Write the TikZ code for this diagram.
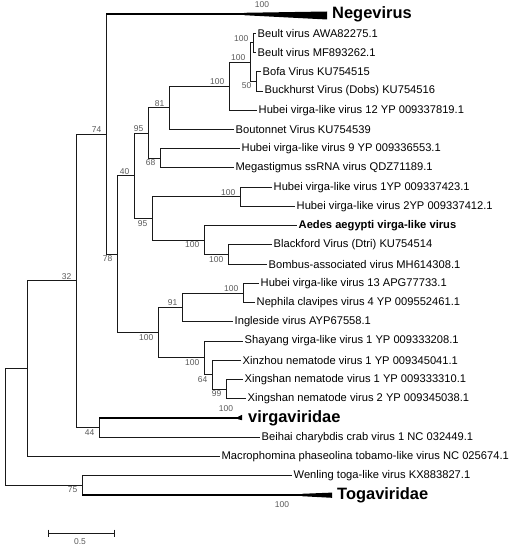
\documentclass[tikz,border=0pt]{standalone}
\usepackage{fontspec}
\setmainfont{Liberation Sans}
\usepackage{tikz}
\usetikzlibrary{positioning}
\tikzstyle{branch} = [line width=0.9bp, black!90]
\tikzstyle{clade} = [line width=2.4bp, black]
\tikzstyle{taxon} = [anchor=west, inner sep=1.5bp, font=\fontsize{11.2}{12}\selectfont]
\tikzstyle{group} = [anchor=west, inner sep=2bp, font=\fontsize{16.5}{18}\selectfont\bfseries]
\tikzstyle{bootUp} = [anchor=south east, inner sep=1.5bp, xshift=-3bp, text=black!65, font=\fontsize{8.5}{9}\selectfont]
\tikzstyle{bootDown} = [anchor=north east, inner sep=1.5bp, xshift=-3bp, text=black!65, font=\fontsize{8.5}{9}\selectfont]
\tikzstyle{bootMid} = [inner sep=0pt, text=black!65, font=\fontsize{8.5}{9}\selectfont]

\begin{document}
\begin{tikzpicture}[x=1bp, y=-1bp]
    \useasboundingbox (0,0) rectangle (519,550);

    % Internal nodes
    \coordinate (root) at (5,427.1);
    \coordinate (nMacro) at (27,368.7);
    \coordinate (n32) at (76,280.9);
    \coordinate (n44) at (99,427.7);
    \coordinate (n75) at (82,485.4);
    \coordinate (n74) at (106,134.1);
    \coordinate (n78) at (117,254.2);
    \coordinate (n40) at (134,175.8);
    \coordinate (n95a) at (148,133.1);
    \coordinate (n81) at (169,107.8);
    \coordinate (n100b) at (229,86.2);
    \coordinate (n100c) at (250,62.1);
    \coordinate (nBeult) at (253,42.9);
    \coordinate (n50) at (256,81.3);
    \coordinate (n68) at (160,158.3);
    \coordinate (n95b) at (152,218.4);
    \coordinate (n100d) at (240,196.8);
    \coordinate (n100e) at (204,240.1);
    \coordinate (n100f) at (228,254.5);
    \coordinate (n100a) at (158,332.7);
    \coordinate (n91) at (182,307.4);
    \coordinate (n100h) at (243,293.0);
    \coordinate (n100g) at (204,357.9);
    \coordinate (n64) at (212,374.8);
    \coordinate (n99) at (226,389.2);

    % Collapsed clades
    \coordinate (negRoot) at (106,14);
    \coordinate (negEnd) at (244,14);
    \coordinate (virRoot) at (99,418);
    \coordinate (virEnd) at (238,418);
    \coordinate (togRoot) at (82,495);
    \coordinate (togEnd) at (302,495);
    \node[group] (negev) at (330,14) {Negevirus};
    \node[group] (virga) at (246,418) {virgaviridae};
    \node[group] (toga) at (335,495) {Togaviridae};

    % Taxa
    \node[taxon] (beultA) at (256,33.2) {Beult virus AWA82275.1};
    \node[taxon] (beultB) at (256,52.5) {Beult virus MF893262.1};
    \node[taxon] (bofa) at (261,71.7) {Bofa Virus KU754515};
    \node[taxon] (buck) at (263,91.0) {Buckhurst Virus (Dobs) KU754516};
    \node[taxon] (hub12) at (257,110.2) {Hubei virga-like virus 12 YP 009337819.1};
    \node[taxon] (bouton) at (234,129.4) {Boutonnet Virus KU754539};
    \node[taxon] (hub9) at (240,148.7) {Hubei virga-like virus 9 YP 009336553.1};
    \node[taxon] (megas) at (234,167.9) {Megastigmus ssRNA virus QDZ71189.1};
    \node[taxon] (hub1) at (272,187.2) {Hubei virga-like virus 1YP 009337423.1};
    \node[taxon] (hub2) at (295,206.4) {Hubei virga-like virus 2YP 009337412.1};
    \node[taxon, font=\fontsize{11.2}{12}\selectfont\bfseries] (aedes) at (297,225.6) {Aedes aegypti virga-like virus};
    \node[taxon] (blackf) at (272,244.9) {Blackford Virus (Dtri) KU754514};
    \node[taxon] (bombus) at (267,264.1) {Bombus-associated virus MH614308.1};
    \node[taxon] (hub13) at (259,283.4) {Hubei virga-like virus 13 APG77733.1};
    \node[taxon] (neph) at (255,302.6) {Nephila clavipes virus 4 YP 009552461.1};
    \node[taxon] (ingle) at (233,321.8) {Ingleside virus AYP67558.1};
    \node[taxon] (shay) at (243,341.1) {Shayang virga-like virus 1 YP 009333208.1};
    \node[taxon] (xinz) at (241,360.3) {Xinzhou nematode virus 1 YP 009345041.1};
    \node[taxon] (xing1) at (243,379.6) {Xingshan nematode virus 1 YP 009333310.1};
    \node[taxon] (xing2) at (246,398.8) {Xingshan nematode virus 2 YP 009345038.1};
    \node[taxon] (beihai) at (260,437.3) {Beihai charybdis crab virus 1 NC 032449.1};
    \node[taxon] (macro) at (220,456.5) {Macrophomina phaseolina tobamo-like virus NC 025674.1};
    \node[taxon] (wenl) at (292,475.8) {Wenling toga-like virus KX883827.1};

    % Branches
    \draw[branch] (root) |- (nMacro);  \draw[branch] (root) |- (n75);
    \draw[branch] (nMacro) |- (n32);   \draw[branch] (nMacro) |- (macro.west);
    \draw[branch] (n32) |- (n74);      \draw[branch] (n32) |- (n44);
    \draw[branch] (n44) |- (virRoot);  \draw[branch] (n44) |- (beihai.west);
    \draw[branch] (n75) |- (wenl.west); \draw[branch] (n75) |- (togRoot);
    \draw[branch] (n74) |- (negRoot);  \draw[branch] (n74) |- (n78);
    \draw[branch] (n78) |- (n40);      \draw[branch] (n78) |- (n100a);
    \draw[branch] (n40) |- (n95a);     \draw[branch] (n40) |- (n95b);
    \draw[branch] (n95a) |- (n81);     \draw[branch] (n95a) |- (n68);
    \draw[branch] (n81) |- (n100b);    \draw[branch] (n81) |- (bouton.west);
    \draw[branch] (n100b) |- (n100c);  \draw[branch] (n100b) |- (hub12.west);
    \draw[branch] (n100c) |- (nBeult); \draw[branch] (n100c) |- (n50);
    \draw[branch] (nBeult) |- (beultA.west); \draw[branch] (nBeult) |- (beultB.west);
    \draw[branch] (n50) |- (bofa.west); \draw[branch] (n50) |- (buck.west);
    \draw[branch] (n68) |- (hub9.west); \draw[branch] (n68) |- (megas.west);
    \draw[branch] (n95b) |- (n100d);   \draw[branch] (n95b) |- (n100e);
    \draw[branch] (n100d) |- (hub1.west); \draw[branch] (n100d) |- (hub2.west);
    \draw[branch] (n100e) |- (aedes.west); \draw[branch] (n100e) |- (n100f);
    \draw[branch] (n100f) |- (blackf.west); \draw[branch] (n100f) |- (bombus.west);
    \draw[branch] (n100a) |- (n91);    \draw[branch] (n100a) |- (n100g);
    \draw[branch] (n91) |- (n100h);    \draw[branch] (n91) |- (ingle.west);
    \draw[branch] (n100h) |- (hub13.west); \draw[branch] (n100h) |- (neph.west);
    \draw[branch] (n100g) |- (shay.west); \draw[branch] (n100g) |- (n64);
    \draw[branch] (n64) |- (xinz.west); \draw[branch] (n64) |- (n99);
    \draw[branch] (n99) |- (xing1.west); \draw[branch] (n99) |- (xing2.west);

    % Thick clade branches and wedges
    \draw[clade] (negRoot) -- (negEnd);
    \fill (negEnd) ++(0,-1.2) -- (327,11.5) -- (327,19.5) -- (244,15.2) -- cycle;
    \draw[clade] (virRoot) -- (virEnd);
    \fill (virEnd) ++(0,-1.2) -- (242,414.8) -- (242,420.2) -- (238,419.2) -- cycle;
    \draw[clade] (togRoot) -- (togEnd);
    \fill (togEnd) ++(0,-1.2) -- (332,492.6) -- (332,497.8) -- (302,496.2) -- cycle;

    % Bootstrap values
    \node[bootUp] at (n74) {74};      \node[bootUp] at (n32) {32};
    \node[bootUp] at (n40) {40};      \node[bootUp] at (n95a) {95};
    \node[bootUp] at (n81) {81};      \node[bootUp] at (n100b) {100};
    \node[bootUp] at (n100c) {100};   \node[bootUp] at (nBeult) {100};
    \node[bootUp] at (n100d) {100};   \node[bootUp] at (n91) {91};
    \node[bootUp] at (n100h) {100};
    \node[bootDown] at (n78) {78};    \node[bootDown] at (n44) {44};
    \node[bootDown] at (n75) {75};    \node[bootDown] at (n100a) {100};
    \node[bootDown] at (n95b) {95};   \node[bootDown] at (n68) {68};
    \node[bootDown] at (n50) {50};    \node[bootDown] at (n100e) {100};
    \node[bootDown] at (n100f) {100}; \node[bootDown] at (n100g) {100};
    \node[bootDown] at (n64) {64};    \node[bootDown] at (n99) {99};
    \node[bootMid] at (262,5) {100};
    \node[bootMid] at (226,409) {100};
    \node[bootMid] at (282,505) {100};

    % Scale bar
    \coordinate (barL) at (48,533);
    \coordinate (barR) at (114,533);
    \draw[branch] (barL) -- (barR);
    \draw[branch] ([yshift=3.5bp]barL) -- ([yshift=-3.5bp]barL);
    \draw[branch] ([yshift=3.5bp]barR) -- ([yshift=-3.5bp]barR);
    \node[bootMid] (barText) at (80,542) {0.5};
\end{tikzpicture}
\end{document}
